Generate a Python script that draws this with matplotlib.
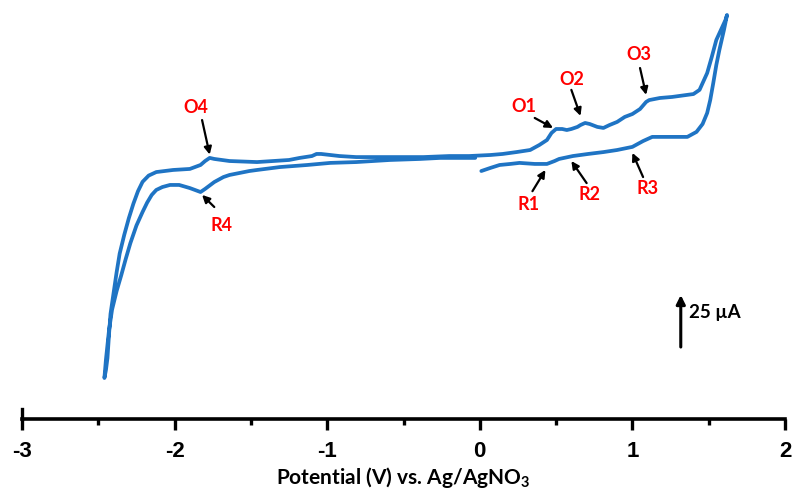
import numpy as np
import matplotlib
matplotlib.use("Agg")
import matplotlib.pyplot as plt

plt.rcParams['mathtext.default'] = 'regular'

# cyclic voltammogram (V, uA)
# forward scan 0 -> +1.62 V (lower right branch)
pot_fwd = [0.01, 0.07, 0.13, 0.20, 0.26, 0.36, 0.44, 0.49, 0.52, 0.61, 0.71, 0.81,
           0.90, 1.00, 1.07, 1.13, 1.25, 1.36, 1.42, 1.46, 1.49, 1.51, 1.53, 1.55,
           1.57, 1.60, 1.62]
cur_fwd = [-5.3, -3.8, -2.4, -1.9, -1.4, -1.9, -1.9, -0.5, 0.5, 1.9, 2.9, 3.8,
           4.8, 6.3, 9.1, 11.1, 11.1, 11.1, 13.5, 17.3, 22.6, 28.8, 37.0, 45.7,
           52.9, 62.5, 69.7]
# reverse scan +1.62 -> 0 V (upper right branch)
pot_rev = [1.61, 1.58, 1.55, 1.52, 1.49, 1.46, 1.44, 1.40, 1.31, 1.26, 1.18, 1.11,
           1.09, 1.05, 1.00, 0.95, 0.90, 0.85, 0.81, 0.77, 0.72, 0.69, 0.66, 0.64,
           0.60, 0.57, 0.54, 0.50, 0.47, 0.44, 0.39, 0.33, 0.24, 0.15, 0.07, -0.07]
cur_rev = [67.3, 62.5, 57.7, 49.5, 41.8, 37.0, 33.7, 31.7, 30.8, 30.3, 29.8, 28.8,
           27.9, 24.5, 22.1, 20.7, 18.3, 16.8, 15.4, 15.9, 17.3, 17.8, 16.8, 15.9,
           14.9, 14.4, 14.9, 14.9, 13.0, 9.6, 7.2, 4.8, 3.8, 2.9, 2.4, 1.9]
# 0 -> -2.46 V (outer left branch)
pot_neg = [-0.20, -0.37, -0.52, -0.81, -0.92, -0.98, -1.04, -1.07, -1.10, -1.18,
           -1.25, -1.46, -1.64, -1.74, -1.77, -1.80, -1.83, -1.90, -2.01, -2.12,
           -2.17, -2.21, -2.24, -2.27, -2.30, -2.33, -2.36, -2.38, -2.40, -2.42,
           -2.43, -2.44, -2.45, -2.46]
cur_neg = [1.9, 1.4, 1.4, 1.4, 1.9, 2.4, 2.9, 2.9, 1.9, 1.0,
           0.0, -1.0, -0.5, 0.5, 1.0, -0.5, -2.4, -4.3, -4.8, -5.8,
           -7.5, -10.5, -15.0, -21.0, -28.0, -36.0, -45.0, -54.0, -64.0, -74.0,
           -84.1, -95.2, -101.0, -104.8]
# -2.46 -> 0 V (inner left branch)
pot_back = [-2.45, -2.43, -2.41, -2.38, -2.35, -2.32, -2.29, -2.25, -2.21, -2.18,
            -2.15, -2.12, -2.08, -2.03, -1.97, -1.90, -1.83, -1.80, -1.74, -1.68,
            -1.64, -1.51, -1.46, -1.31, -1.13, -0.98, -0.81, -0.59, -0.39, -0.26,
            -0.03]
cur_back = [-96.0, -82.0, -72.0, -63.0, -55.5, -47.5, -40.0, -31.5, -25.0, -20.5,
            -16.8, -14.4, -13.0, -12.0, -12.0, -13.5, -15.4, -13.9, -10.6, -8.2,
            -7.2, -5.3, -4.8, -3.4, -2.4, -1.4, -1.0, 0.0, 0.5, 1.0,
            1.0]

# peak labels: (text, text pos, arrow tail, arrow head)
peak_names = ['O1', 'O2', 'O3', 'O4', 'R1', 'R2', 'R3', 'R4']
peak_text = [(0.29, 25.5), (0.60, 38.5), (1.04, 50.5), (-1.86, 25.0),
             (0.32, -21.6), (0.72, -16.8), (1.10, -13.5), (-1.69, -31.7)]
peak_tail = [(0.36, 20.2), (0.60, 33.7), (1.05, 44.2), (-1.82, 19.2),
             (0.345, -15.0), (0.70, -11.1), (1.07, -8.2), (-1.74, -22.6)]
peak_head = [(0.48, 15.4), (0.66, 21.2), (1.09, 31.3), (-1.77, 2.6),
             (0.43, -4.8), (0.60, -0.5), (1.00, 3.4), (-1.82, -16.8)]

x_ticks = [-3, -2, -1, 0, 1, 2]
scale_uA = 25

pot = pot_fwd + pot_rev + pot_neg + pot_back
cur = cur_fwd + cur_rev + cur_neg + cur_back

fig = plt.figure(figsize=(7.95, 4.95), dpi=100)
ax = fig.add_axes([22 / 795, 1 - 419 / 495, (785 - 22) / 795, 419 / 495])

ax.plot(pot, cur, color='#1f74c4', lw=2.7, solid_joinstyle='round', solid_capstyle='round')

ax.set_xlim(-3, 2)
ax.set_ylim(-124.5, 76.9)
for s in ['left', 'right', 'top']:
    ax.spines[s].set_visible(False)
ax.spines['bottom'].set_linewidth(2.6)
ax.set_yticks([])
ax.set_xticks(x_ticks)
ax.set_xticklabels([str(t) for t in x_ticks], family=['Liberation Sans Narrow', 'Liberation Sans'],
                   fontweight='bold', fontsize=16)
ax.set_xticks(np.arange(-2.5, 2, 1.0), minor=True)
ax.tick_params(axis='x', which='major', direction='out', length=8, width=2.4, pad=8)
ax.tick_params(axis='x', which='minor', direction='out', length=4, width=2.4)
# small upward stub at the left end of the axis
ax.plot([-3, -3], [0, 0.025], color='black', lw=2.4, transform=ax.get_xaxis_transform(),
        clip_on=False)

ax.set_xlabel('Potential (V) vs. Ag/AgNO$_3$', family='Lato', fontweight='bold',
              fontsize=15, labelpad=2)

for name, tp, tl, hd in zip(peak_names, peak_text, peak_tail, peak_head):
    ax.text(tp[0], tp[1], name, color='#ff0000', fontsize=13, fontweight='bold',
            family='Lato', ha='center', va='center')
    ax.annotate('', xy=hd, xytext=tl,
                arrowprops=dict(arrowstyle='-|>', color='black', lw=1.6,
                                mutation_scale=11, shrinkA=0, shrinkB=0))

# 25 uA scale bar
ax.annotate('', xy=(1.317, -89.9 + scale_uA), xytext=(1.317, -89.9),
            arrowprops=dict(arrowstyle='-|>', color='black', lw=2.2,
                            mutation_scale=13, shrinkA=0, shrinkB=0))
ax.text(1.372, -73.1, '%d µA' % scale_uA, fontsize=13.5, fontweight='bold', family='Lato',
        ha='left', va='center')

fig.savefig('out.png', dpi=100)
